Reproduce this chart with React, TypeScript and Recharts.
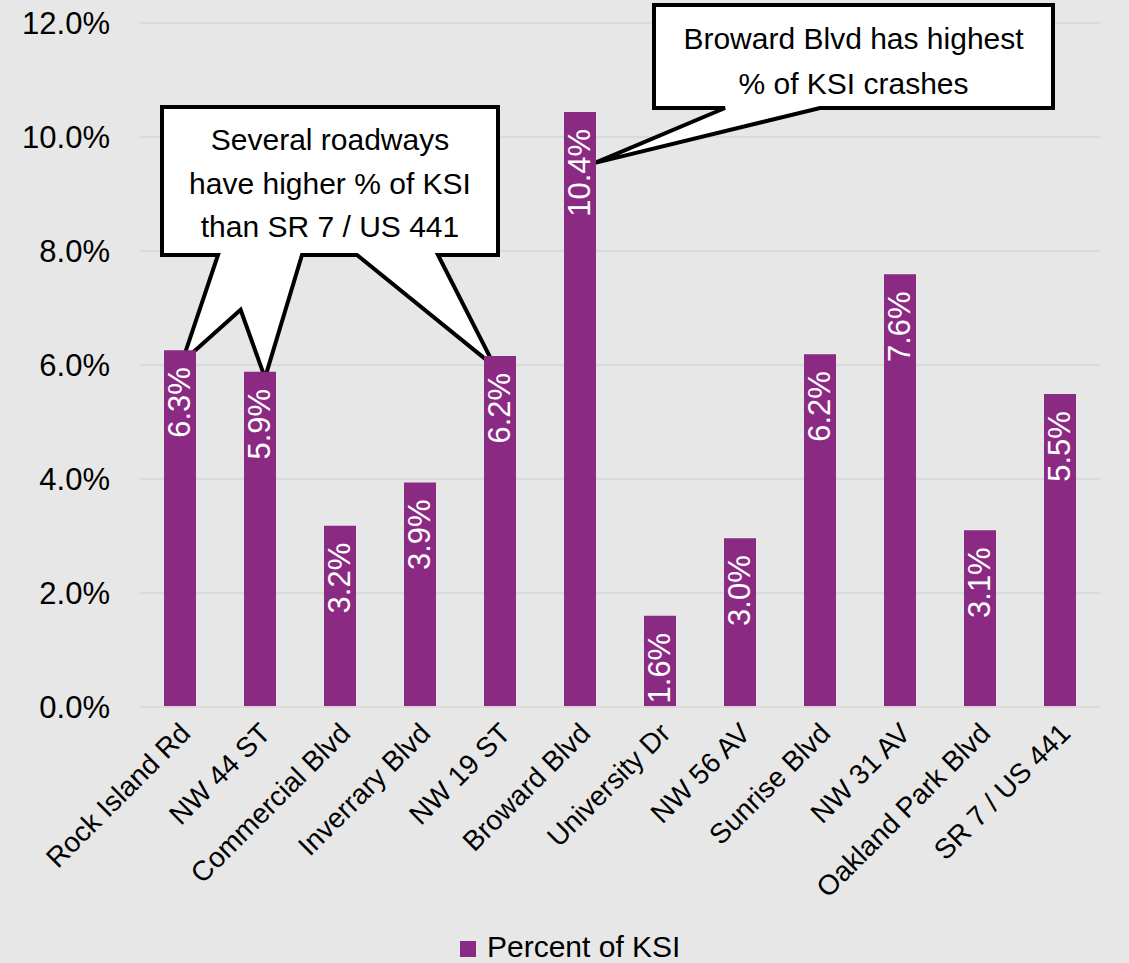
import React from 'react';
import * as R from 'recharts';

const { BarChart, Bar, XAxis, YAxis, CartesianGrid, Legend, LabelList } = R as any;

// ---------- data ----------
const categories = [
  'Rock Island Rd',
  'NW 44 ST',
  'Commercial Blvd',
  'Inverrary Blvd',
  'NW 19 ST',
  'Broward Blvd',
  'University Dr',
  'NW 56 AV',
  'Sunrise Blvd',
  'NW 31 AV',
  'Oakland Park Blvd',
  'SR 7 / US 441',
];
const percentKSI = [6.26, 5.88, 3.18, 3.94, 6.16, 10.44, 1.6, 2.96, 6.19, 7.59, 3.1, 5.49];
const yTicks = [0, 2, 4, 6, 8, 10, 12];
const seriesName = 'Percent of KSI';
const note1Lines = ['Several roadways', 'have higher % of KSI', 'than SR 7 / US 441'];
const note2Lines = ['Broward Blvd has highest', '% of KSI crashes'];

const data = categories.map((c, i) => ({ name: c, pct: percentKSI[i] }));

// ---------- styling / layout ----------
const W = 1129;
const H = 963;
const BG = '#e7e7e7';
const BAR = '#8b2a83';
const GRID = '#d9d9d9';
const FONT = '"Liberation Sans", Arial, sans-serif';
const MARGIN = { top: 23, right: 29, left: 0, bottom: 0 };
const YAXIS_W = 140;
const XAXIS_H = 216;
const LEGEND_H = 40;

const usePA: any = (R as any).usePlotArea || (() => undefined);

const fallbackPlot = {
  x: MARGIN.left + YAXIS_W,
  y: MARGIN.top,
  width: W - MARGIN.left - MARGIN.right - YAXIS_W,
  height: H - MARGIN.top - MARGIN.bottom - XAXIS_H - LEGEND_H,
};

function intersect(p1: number[], p2: number[], p3: number[], p4: number[]) {
  const [x1, y1] = p1, [x2, y2] = p2, [x3, y3] = p3, [x4, y4] = p4;
  const d = (x1 - x2) * (y3 - y4) - (y1 - y2) * (x3 - x4);
  const t = ((x1 - x3) * (y3 - y4) - (y1 - y3) * (x3 - x4)) / d;
  return [x1 + t * (x2 - x1), y1 + t * (y2 - y1)];
}

const Callouts = () => {
  const pa = usePA();
  const plot = pa && pa.width ? pa : fallbackPlot;
  const band = plot.width / categories.length;
  const yMax = yTicks[yTicks.length - 1];
  const cx = (i: number) => plot.x + band * (i + 0.5);
  const cy = (v: number) => plot.y + plot.height * (1 - v / yMax);

  // callout 1
  const b1 = { l: 162, t: 107, r: 498, b: 255 };
  const tA = [cx(0) + 2, cy(percentKSI[0]) + 12];
  const tB = [cx(1) + 5, cy(percentKSI[1]) + 6];
  const tC = [cx(4) - 5, cy(percentKSI[4]) + 11];
  const J = intersect([221, b1.b], tB, [302, b1.b], tA);
  const path1 = `M${b1.l},${b1.t} H${b1.r} V${b1.b} H438 L${tC[0]},${tC[1]} L357,${b1.b} H302 L${tB[0]},${tB[1]} L${J[0]},${J[1]} L${tA[0]},${tA[1]} L218,${b1.b} H${b1.l} Z`;

  // callout 2
  const b2 = { l: 654, t: 5, r: 1053, b: 108 };
  const tD = [cx(5) + 15, cy(percentKSI[5]) + 51];
  const path2 = `M${b2.l},${b2.t} H${b2.r} V${b2.b} H820 L${tD[0]},${tD[1]} L725,${b2.b} H${b2.l} Z`;

  return (
    <g>
      <path d={path1} fill="#fff" stroke="#000" strokeWidth={4} strokeLinejoin="miter" />
      {note1Lines.map((s, i) => (
        <text key={i} x={(b1.l + b1.r) / 2} y={150 + i * 43.5} textAnchor="middle" fontSize={30} fontFamily={FONT} fill="#000">
          {s}
        </text>
      ))}
      <path d={path2} fill="#fff" stroke="#000" strokeWidth={4} strokeLinejoin="miter" />
      {note2Lines.map((s, i) => (
        <text key={i} x={(b2.l + b2.r) / 2} y={49 + i * 45} textAnchor="middle" fontSize={30} fontFamily={FONT} fill="#000">
          {s}
        </text>
      ))}
    </g>
  );
};

const CatTick = (props: any) => {
  const { x, y, payload } = props;
  return (
    <g transform={`translate(${x + 12},${y + 28})`}>
      <text transform="rotate(-45)" textAnchor="end" fontSize={28} fontFamily={FONT} fill="#000">
        {payload.value}
      </text>
    </g>
  );
};

const BarLabel = (props: any) => {
  const { x, y, width, value } = props;
  const lx = x + width / 2;
  const ly = y + 17;
  return (
    <text
      x={lx}
      y={ly}
      transform={`rotate(-90, ${lx}, ${ly})`}
      textAnchor="end"
      dominantBaseline="central"
      fontSize={31}
      fontFamily={FONT}
      fill="#fff"
    >
      {`${Number(value).toFixed(1)}%`}
    </text>
  );
};

const LegendContent = (props: any) => {
  const label = props?.payload?.[0]?.value ?? seriesName;
  return (
    <svg width={W} height={LEGEND_H} style={{ display: 'block', overflow: 'visible' }}>
      <rect x={460} y={18} width={16} height={16} fill={BAR} />
      <text x={487} y={34} fontSize={30} fontFamily={FONT} fill="#000">
        {label}
      </text>
    </svg>
  );
};

export default function App() {
  return (
    <div style={{ position: 'absolute', left: 0, top: 0, width: W, height: H, background: BG, fontFamily: FONT }}>
      <BarChart width={W} height={H} data={data} margin={MARGIN}>
        <CartesianGrid vertical={false} stroke={GRID} strokeWidth={2} />
        <XAxis
          dataKey="name"
          interval={0}
          height={XAXIS_H}
          tickLine={false}
          tickSize={0}
          tickMargin={0}
          axisLine={{ stroke: GRID, strokeWidth: 2 }}
          tick={<CatTick />}
        />
        <YAxis
          width={YAXIS_W}
          domain={[0, 12]}
          ticks={yTicks}
          interval={0}
          axisLine={false}
          tickLine={false}
          tickSize={0}
          tickMargin={30}
          tickFormatter={(v: number) => `${v.toFixed(1)}%`}
          tick={{ fontSize: 31, fill: '#000', fontFamily: FONT }}
        />
        <Legend
          verticalAlign="bottom"
          height={LEGEND_H}
          content={<LegendContent />}
          wrapperStyle={{ left: 0, width: W, height: LEGEND_H }}
        />
        <Bar dataKey="pct" name={seriesName} fill={BAR} barSize={32} isAnimationActive={false}>
          <LabelList dataKey="pct" content={<BarLabel />} />
        </Bar>
        <Callouts />
      </BarChart>
    </div>
  );
}
